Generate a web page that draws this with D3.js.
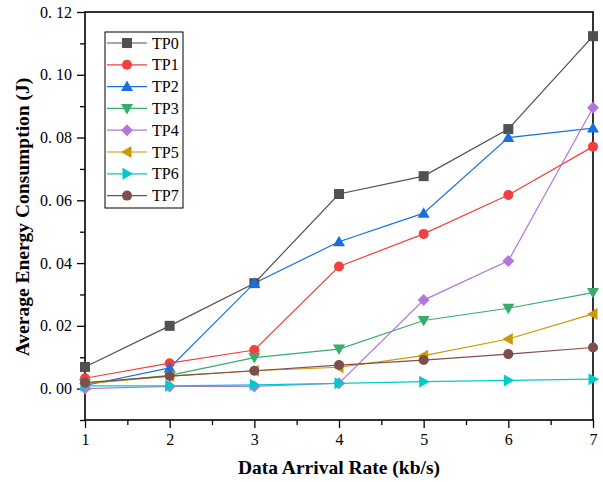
<!DOCTYPE html>
<meta charset="utf-8">
<style>
  body { margin: 0; background: #fff; }
  text { font-family: "Liberation Serif", "Times New Roman", serif; }
</style>
<script src="https://d3js.org/d3.v7.min.js"></script>
<div id="chart"></div>
<script>
// data
var rates = [1, 2, 3, 4, 5, 6, 7];
var seriesNames = ["TP0", "TP1", "TP2", "TP3", "TP4", "TP5", "TP6", "TP7"];
var tp0 = [0.0069, 0.0200, 0.0336, 0.0620, 0.0677, 0.0827, 0.1123];
var tp1 = [0.0033, 0.0081, 0.0123, 0.0389, 0.0493, 0.0617, 0.0771];
var tp2 = [0.0010, 0.0066, 0.0336, 0.0468, 0.0559, 0.0800, 0.0830];
var tp3 = [0.0016, 0.0042, 0.0099, 0.0126, 0.0217, 0.0256, 0.0306];
var tp4 = [0.0000, 0.0007, 0.0007, 0.0017, 0.0282, 0.0407, 0.0895];
var tp5 = [0.0016, 0.0040, 0.0057, 0.0068, 0.0105, 0.0158, 0.0238];
var tp6 = [0.0009, 0.0009, 0.0012, 0.0017, 0.0022, 0.0026, 0.0030];
var tp7 = [0.0019, 0.0040, 0.0057, 0.0075, 0.0091, 0.0110, 0.0131];
var yTicks = [0, 0.02, 0.04, 0.06, 0.08, 0.10, 0.12];

var allSeries = [tp0, tp1, tp2, tp3, tp4, tp5, tp6, tp7];
var colors = ["#515151", "#F14040", "#1A6FDF", "#37AD6B", "#B177DE", "#CC9900", "#00CBCC", "#7D4E4E"];
var shapes = ["square", "circle", "triUp", "triDown", "diamond", "triLeft", "triRight", "circle"];

var W = 603, H = 482;
var margin = {top: 12, right: 10, bottom: 62, left: 85};
var width = W - margin.left - margin.right,
    height = H - margin.top - margin.bottom;

var svg = d3.select("#chart").append("svg")
  .attr("width", W).attr("height", H);
var g = svg.append("g")
  .attr("transform", "translate(" + margin.left + "," + margin.top + ")");

var x = d3.scaleLinear().domain([1, 7]).range([0, width]);
var y = d3.scaleLinear().domain([-0.01, 0.12]).range([height, 0]);

function markerPath(shape, s) {
  var h = s / 2;
  if (shape === "square") return "M" + (-h) + "," + (-h) + "h" + s + "v" + s + "h" + (-s) + "Z";
  if (shape === "circle") return d3.symbol(d3.symbolCircle, Math.PI * h * h)();
  if (shape === "diamond") return "M0," + (-h - 1) + "L" + (h + 1) + ",0L0," + (h + 1) + "L" + (-h - 1) + ",0Z";
  var t = h + 1;
  if (shape === "triUp") return "M0," + (-t) + "L" + t + "," + (t * 0.75) + "L" + (-t) + "," + (t * 0.75) + "Z";
  if (shape === "triDown") return "M0," + t + "L" + t + "," + (-t * 0.75) + "L" + (-t) + "," + (-t * 0.75) + "Z";
  if (shape === "triLeft") return "M" + (-t) + ",0L" + (t * 0.75) + "," + (-t) + "L" + (t * 0.75) + "," + t + "Z";
  return "M" + t + ",0L" + (-t * 0.75) + "," + (-t) + "L" + (-t * 0.75) + "," + t + "Z";
}

// minor ticks
var xMinor = d3.range(1.5, 7, 1);
var yMinor = [-0.01, 0.01, 0.03, 0.05, 0.07, 0.09, 0.11];

g.append("g")
  .attr("transform", "translate(0," + height + ")")
  .call(d3.axisBottom(x).tickValues(xMinor).tickSize(5).tickFormat(""))
  .call(function(a) { a.select(".domain").remove(); });
g.append("g")
  .call(d3.axisLeft(y).tickValues(yMinor).tickSize(5).tickFormat(""))
  .call(function(a) { a.select(".domain").remove(); });

var xAxis = g.append("g")
  .attr("transform", "translate(0," + height + ")")
  .call(d3.axisBottom(x).tickValues(rates).tickSize(8).tickPadding(6).tickFormat(d3.format("d")));
var yAxis = g.append("g")
  .call(d3.axisLeft(y).tickValues(yTicks).tickSize(8).tickPadding(5)
    .tickFormat(function(d) { return d3.format(".2f")(d).replace(".", ". "); }));

[xAxis, yAxis].forEach(function(a) {
  a.select(".domain").remove();
  a.selectAll("text").style("font-size", "16px").attr("fill", "#000")
    .style("font-family", "'Liberation Serif', serif");
});
g.selectAll(".tick line").attr("stroke", "#000").attr("stroke-width", 1.3);

// frame
g.append("rect")
  .attr("x", 0).attr("y", 0).attr("width", width).attr("height", height)
  .attr("fill", "none").attr("stroke", "#000").attr("stroke-width", 1.6);

// lines and markers
var line = d3.line()
  .x(function(d, i) { return x(rates[i]); })
  .y(function(d) { return y(d); });

allSeries.forEach(function(vals, k) {
  g.append("path")
    .datum(vals)
    .attr("d", line)
    .attr("fill", "none")
    .attr("stroke", colors[k])
    .attr("stroke-width", 1.2);
});
allSeries.forEach(function(vals, k) {
  g.selectAll(".m" + k)
    .data(vals)
    .enter()
    .append("path")
    .attr("class", "m" + k)
    .attr("transform", function(d, i) { return "translate(" + x(rates[i]) + "," + y(d) + ")"; })
    .attr("d", markerPath(shapes[k], 10))
    .attr("fill", colors[k]);
});

// legend
var leg = svg.append("g").attr("transform", "translate(105,32)");
leg.append("rect")
  .attr("width", 78).attr("height", 176)
  .attr("fill", "#fff").attr("stroke", "#000").attr("stroke-width", 1);
seriesNames.forEach(function(name, k) {
  var row = leg.append("g").attr("transform", "translate(0," + (11 + k * 21.8) + ")");
  row.append("line").attr("x1", 2).attr("x2", 42)
    .attr("stroke", colors[k]).attr("stroke-width", 1.2);
  row.append("path").attr("transform", "translate(22,0)")
    .attr("d", markerPath(shapes[k], 10)).attr("fill", colors[k]);
  row.append("text").attr("x", 47).attr("dy", "0.35em")
    .style("font-size", "16px").text(name);
});

// axis titles
svg.append("text")
  .attr("x", margin.left + width / 2).attr("y", 474)
  .attr("text-anchor", "middle")
  .style("font-size", "19.5px").style("font-weight", "bold")
  .text("Data Arrival Rate (kb/s)");
svg.append("text")
  .attr("transform", "translate(29," + (margin.top + height / 2 + 1) + ") rotate(-90)")
  .attr("text-anchor", "middle")
  .style("font-size", "19.5px").style("font-weight", "bold")
  .text("Average Energy Consumption (J)");
</script>
